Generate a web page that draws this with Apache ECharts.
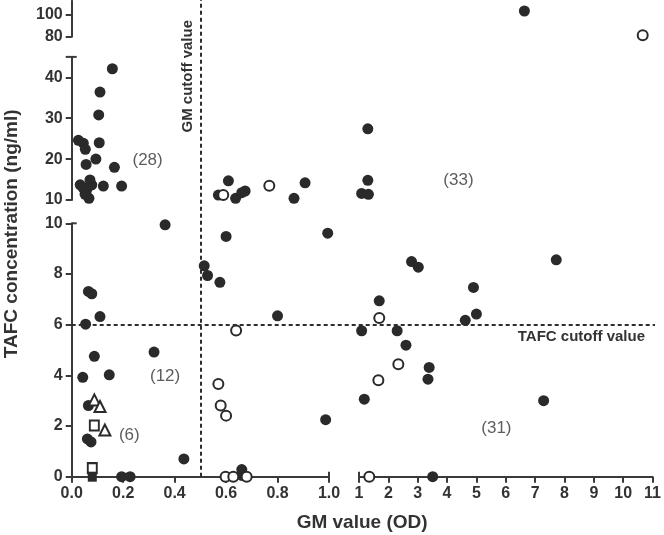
<!DOCTYPE html>
<html><head><meta charset="utf-8">
<script src="https://cdn.jsdelivr.net/npm/echarts@6/dist/echarts.min.js"></script>
<style>html,body{margin:0;padding:0;background:#fff}#c{width:664px;height:535px}</style>
</head><body><div id="c"></div>
<script>
// ---- data (GM value OD, TAFC ng/ml) ----
const filledCircles = [
  [0.158,42.1],[0.110,36.4],[0.105,30.8],[0.107,24.0],[0.026,24.6],[0.045,23.9],[0.053,22.4],
  [0.094,20.0],[0.056,18.7],[0.166,18.0],[0.123,13.4],[0.194,13.4],[0.033,13.7],[0.045,12.9],
  [0.056,12.0],[0.067,10.4],[0.071,14.9],[0.078,13.7],[0.062,13.0],[0.052,11.4],
  [0.363,9.94],[0.065,7.31],[0.078,7.22],[0.110,6.32],[0.054,6.02],[0.088,4.75],[0.043,3.92],
  [0.146,4.02],[0.320,4.92],[0.065,2.81],[0.061,1.49],[0.075,1.37],[0.194,0],[0.227,0],
  [0.436,0.70],[0.661,0.28],[0.661,0.05],
  [0.600,9.48],[0.515,8.32],[0.528,7.94],[0.576,7.67],[0.800,6.35],[0.995,9.61],[0.987,2.25],
  [0.609,14.7],[0.570,11.2],[0.637,10.4],[0.661,11.8],[0.674,12.2],[0.907,14.2],[0.864,10.4],
  [1.09,11.6],[1.32,11.4],[1.30,14.8],[1.30,27.4],[6.62,103.7],
  [2.79,8.49],[3.02,8.27],[7.72,8.56],[1.69,6.94],[1.09,5.76],[2.30,5.76],[2.60,5.19],
  [3.39,4.31],[3.35,3.85],[1.18,3.06],[7.29,3.00],[4.90,7.47],[5.00,6.42],[4.62,6.17],[3.51,0]
];
const openCircles = [
  [0.589,11.2],[0.768,13.5],[10.64,81.3],[0.639,5.77],[0.570,3.66],[0.579,2.81],[0.600,2.41],
  [0.598,0],[0.628,0],[0.680,0],[1.69,6.26],[2.34,4.44],[1.66,3.81],[1.35,0]
];
const openTriangles = [[0.088,3.03],[0.110,2.77],[0.129,1.84]];
const openSquares = [[0.088,2.02],[0.080,0.34]];
const filledSquares = [[0.080,0]];

const groupLabels = ['(28)','(33)','(12)','(31)','(6)'];
const groupLabelX = [0.295,4.38,0.363,5.68,0.224];
const groupLabelY = [19.8,14.9,3.95,1.91,1.65];

const gmCutoff = 0.5;
const tafcCutoff = 6;

// axis segments (broken axes): [min, max, interval]
const xSegments = [[0,1,0.2],[1,11,1]];
const ySegments = [[0,10,2],[10,45,10],[80,113,20]];

// ---- layout ----
const gx = [{left:71.7,width:257.3},{left:359,width:294.3}];
const gy = [{top:223.3,height:253.4},{top:56.9,height:143.1},{top:0.9,height:35.8}];

const INK = '#333';
const AX = '#3a3a3a';
const MARK = '#2a2a2a';
const FONT = '"Liberation Sans", Arial, sans-serif';

function segIndex(x,y){
  const c = x <= 1 ? 0 : 1;
  const r = y <= 10 ? 0 : (y <= 45 ? 1 : 2);
  return r*2 + c;
}

const grids=[], xAxes=[], yAxes=[];
for (let r=0;r<3;r++){
  for (let c=0;c<2;c++){
    grids.push({left:gx[c].left, width:gx[c].width, top:gy[r].top, height:gy[r].height});
    const xs = xSegments[c], ys = ySegments[r];
    const showX = r===0, showY = c===0;
    xAxes.push({
      type:'value', gridIndex:grids.length-1, min:xs[0], max:xs[1], interval:xs[2],
      show:showX, splitLine:{show:false},
      axisLine:{show:true,onZero:false,lineStyle:{color:AX,width:2}},
      axisTick:{show:true,length:6,lineStyle:{color:AX,width:2}},
      axisLabel:{color:INK,fontSize:16,fontWeight:'bold',fontFamily:FONT,margin:9,
        formatter: c===0 ? (v=>v.toFixed(1)) : (v=>String(Math.round(v)))}
    });
    yAxes.push({
      type:'value', gridIndex:grids.length-1, min:ys[0], max:ys[1], interval:ys[2],
      show:showY, splitLine:{show:false},
      axisLine:{show:true,onZero:false,lineStyle:{color:AX,width:2}},
      axisTick:{show:true,length:6,lineStyle:{color:AX,width:2}},
      axisLabel:{color:INK,fontSize:16,fontWeight:'bold',fontFamily:FONT,margin:9,
        showMaxLabel: r===0}
    });
  }
}
// overlay grids for cutoff lines
grids.push({left:71.7,width:257.3,top:0,height:476.7});
xAxes.push({type:'value',gridIndex:6,min:0,max:1,show:false});
yAxes.push({type:'value',gridIndex:6,min:0,max:1,show:false});
grids.push({left:71.7,width:583.3,top:223.3,height:253.4});
xAxes.push({type:'value',gridIndex:7,min:0,max:1,show:false});
yAxes.push({type:'value',gridIndex:7,min:0,max:10,show:false});

const series=[];
const dash = {type:[4,3],color:'#2e2e2e',width:2};
series.push({type:'scatter',xAxisIndex:6,yAxisIndex:6,data:[],silent:true,
  markLine:{silent:true,symbol:'none',animation:false,lineStyle:dash,
    label:{show:true,position:'insideEndTop',formatter:'GM cutoff value',color:INK,
      fontSize:15,fontWeight:'bold',fontFamily:FONT,distance:[20,5]},
    data:[{xAxis:gmCutoff}]}});
series.push({type:'scatter',xAxisIndex:7,yAxisIndex:7,data:[],silent:true,
  markLine:{silent:true,symbol:'none',animation:false,lineStyle:dash,
    label:{show:true,position:'insideEndBottom',formatter:'TAFC cutoff value',color:INK,
      fontSize:15,fontWeight:'bold',fontFamily:FONT,distance:[10,5]},
    data:[{yAxis:tafcCutoff}]}});

function addSeries(points, style){
  const buckets = [[],[],[],[],[],[]];
  points.forEach(p=>buckets[segIndex(p[0],p[1])].push(p));
  buckets.forEach((b,i)=>{
    if(!b.length) return;
    series.push(Object.assign({type:'scatter',xAxisIndex:i,yAxisIndex:i,data:b,clip:false,z:5,animation:false},style));
  });
}
addSeries(filledCircles,{symbol:'circle',symbolSize:11,itemStyle:{color:MARK,opacity:1}});
addSeries(openCircles,{symbol:'circle',symbolSize:10,itemStyle:{color:'#fff',borderColor:MARK,borderWidth:2,opacity:1}});
addSeries(openTriangles,{symbol:'triangle',symbolSize:11,itemStyle:{color:'#fff',borderColor:MARK,borderWidth:2,opacity:1}});
addSeries(openSquares,{symbol:'rect',symbolSize:[9,10],itemStyle:{color:'#fff',borderColor:MARK,borderWidth:2,opacity:1}});
addSeries(filledSquares,{symbol:'rect',symbolSize:[9,10],itemStyle:{color:MARK,opacity:1}});

// group count labels placed at data coordinates
const lb=[[],[],[],[],[],[]];
groupLabels.forEach((t,i)=>lb[segIndex(groupLabelX[i],groupLabelY[i])].push({value:[groupLabelX[i],groupLabelY[i]],name:t}));
lb.forEach((b,i)=>{
  if(!b.length) return;
  series.push({type:'scatter',xAxisIndex:i,yAxisIndex:i,data:b,symbolSize:0,silent:true,animation:false,
    label:{show:true,position:'inside',formatter:'{b}',color:'#333',fontSize:17,fontFamily:FONT}});
});

const chart = echarts.init(document.getElementById('c'),null,{renderer:'canvas'});
chart.setOption({
  backgroundColor:'#fff',
  animation:false,
  grid:grids, xAxis:xAxes, yAxis:yAxes, series:series
});

// axis-break caps and titles positioned from the axes themselves
function px(grid, pt){ return chart.convertToPixel({gridIndex:grid}, pt); }
const capStyle = {stroke:AX,lineWidth:2};
const g = [];
const a = px(2,[0,45]);  g.push({type:'line',shape:{x1:a[0]-6,y1:a[1],x2:a[0]+5,y2:a[1]},style:capStyle});
const b = px(0,[0,10]);  g.push({type:'line',shape:{x1:b[0],y1:b[1],x2:b[0]+5,y2:b[1]},style:capStyle});
const c1 = px(0,[1,0]);  g.push({type:'line',shape:{x1:c1[0],y1:c1[1]-5,x2:c1[0],y2:c1[1]},style:capStyle});
const d = px(1,[1,0]);   g.push({type:'line',shape:{x1:d[0],y1:d[1]-5,x2:d[0],y2:d[1]},style:capStyle});
const xl = px(0,[0,0]), xr = px(1,[11,0]);
g.push({type:'text',x:(xl[0]+xr[0])/2,y:xl[1]+37,style:{text:'GM value (OD)',fill:INK,font:'bold 19px '+FONT,align:'center',verticalAlign:'top'}});
const yt = px(4,[0,113]);
g.push({type:'text',rotation:Math.PI/2,x:2,y:(yt[1]+xl[1])/2-5,style:{text:'TAFC concentration (ng/ml)',fill:INK,
  font:'bold 19px '+FONT,align:'center',verticalAlign:'top'}});
chart.setOption({graphic:g});
</script></body></html>
